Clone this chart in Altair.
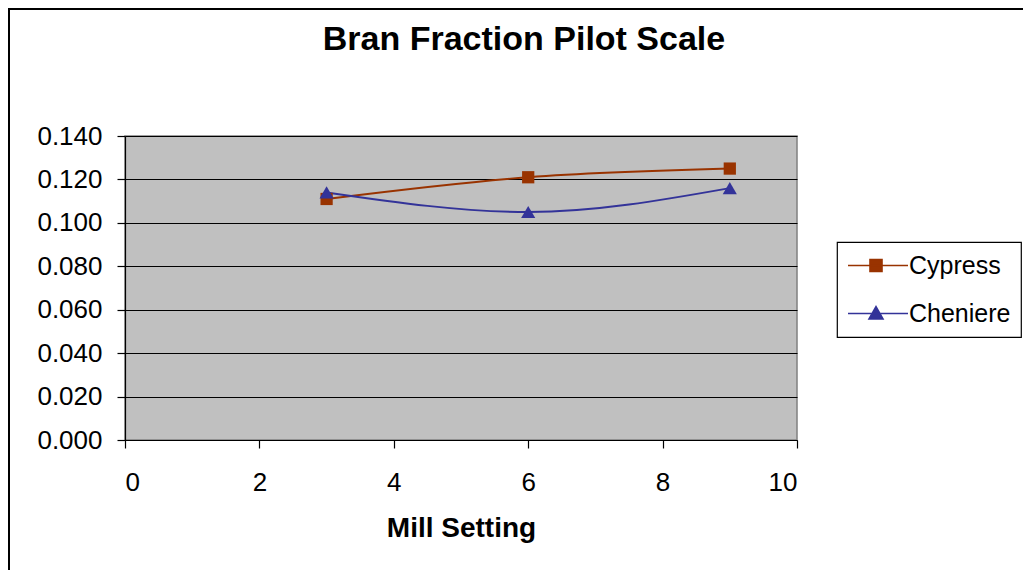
import altair as alt
import pandas as pd

# ---- data ----
mill_setting = [3, 6, 9]
cypress = [0.111, 0.121, 0.125]
cheniere = [0.114, 0.105, 0.116]
series_names = ["Cypress", "Cheniere"]
series_colors = ["#993300", "#333399"]
x_ticks = [0, 2, 4, 6, 8, 10]
y_ticks = [0.0, 0.02, 0.04, 0.06, 0.08, 0.10, 0.12, 0.14]

rows = []
for name, vals in zip(series_names, [cypress, cheniere]):
    for m, v in zip(mill_setting, vals):
        rows.append({"series": name, "mill": m, "value": v})
df = pd.DataFrame(rows)

FONT = "Liberation Sans, Arial, sans-serif"

x = alt.X(
    "mill:Q",
    scale=alt.Scale(domain=[0, 10], nice=False, zero=False),
    axis=alt.Axis(values=x_ticks, title="Mill Setting", grid=False,
                  labelFont=FONT, labelFontSize=26, labelPadding=21,
                  titleFont=FONT, titleFontSize=28, titleFontWeight="bold",
                  titlePadding=19, format="d"),
)
y = alt.Y(
    "value:Q",
    scale=alt.Scale(domain=[0, 0.14], nice=False, zero=True),
    axis=alt.Axis(values=y_ticks, format=".3f", title=None, grid=True,
                  labelFont=FONT, labelFontSize=26, labelPadding=15),
)

leg_kw = dict(title=None, orient="none", legendX=712, legendY=106)

base = alt.Chart(df)

lines = base.mark_line(interpolate="monotone", strokeWidth=1.9).encode(
    x=x, y=y,
    color=alt.Color("series:N", scale=alt.Scale(domain=series_names, range=series_colors),
                    legend=alt.Legend(**leg_kw)),
)

squares = base.transform_filter(alt.datum.series == "Cypress").mark_point(
    shape="square", filled=True, size=150, color=series_colors[0], opacity=1
).encode(x=x, y=y)

triangles = base.transform_filter(alt.datum.series == "Cheniere").mark_point(
    shape="triangle-up", filled=True, size=200, color=series_colors[1], opacity=1
).encode(x=x, y=y)

# legend symbols: line + marker as custom symbol paths (these marks have size 0)
legend_paths = [
    "M-1,0H3.8M0.76,-0.48H1.72V0.48H0.76Z",
    "M-1,0H3.8M1.24,-0.55L1.8,0.44H0.68Z",
]
legend_layer = base.mark_point(
    filled=True, opacity=1, strokeWidth=1.6, size=0
).encode(
    x=x, y=y,
    fill=alt.Fill("series:N", scale=alt.Scale(domain=series_names, range=series_colors), legend=alt.Legend(**leg_kw)),
    stroke=alt.Stroke("series:N", scale=alt.Scale(domain=series_names, range=series_colors), legend=alt.Legend(**leg_kw)),
    shape=alt.Shape("series:N", scale=alt.Scale(domain=series_names, range=legend_paths), legend=alt.Legend(**leg_kw)),
)

# outer frame (decoration)
frame_df = pd.DataFrame({"k": [0]})
frame_left = alt.Chart(frame_df).mark_rule(color="black", strokeWidth=2).encode(
    x=alt.value(-116), y=alt.value(-127), y2=alt.value(434)
)
frame_top = alt.Chart(frame_df).mark_rule(color="black", strokeWidth=2).encode(
    x=alt.value(-117), x2=alt.value(898), y=alt.value(-127)
)

chart = alt.layer(frame_left, frame_top, lines, squares, triangles, legend_layer).properties(
    width=672,
    height=304,
    autosize=alt.AutoSizeParams(type="none"),
    padding={"left": 117, "top": 128, "right": 226, "bottom": 130},
    title=alt.TitleParams(
        "Bran Fraction Pilot Scale", font=FONT, fontSize=34, fontWeight="bold",
        color="black", anchor="middle", frame="group", dx=63, offset=-76,
        baseline="alphabetic",
    ),
).configure(background="white").configure_view(
    fill="#C0C0C0", stroke="#808080", strokeWidth=1.5
).configure_axis(
    domainColor="black", domainWidth=1.2, tickColor="black", tickSize=8, tickWidth=1.2,
    labelColor="black", titleColor="black", gridColor="black", gridWidth=1,
).configure_legend(
    strokeColor="black", fillColor="white", padding=10, symbolSize=625,
    labelOffset=35, rowPadding=21, labelFontSize=25, labelFont=FONT,
    labelColor="black", symbolStrokeWidth=1.6, symbolOpacity=1,
    cornerRadius=0, strokeWidth=1.2,
)

chart.save("out.html", embed_options={"renderer": "svg", "actions": False})
